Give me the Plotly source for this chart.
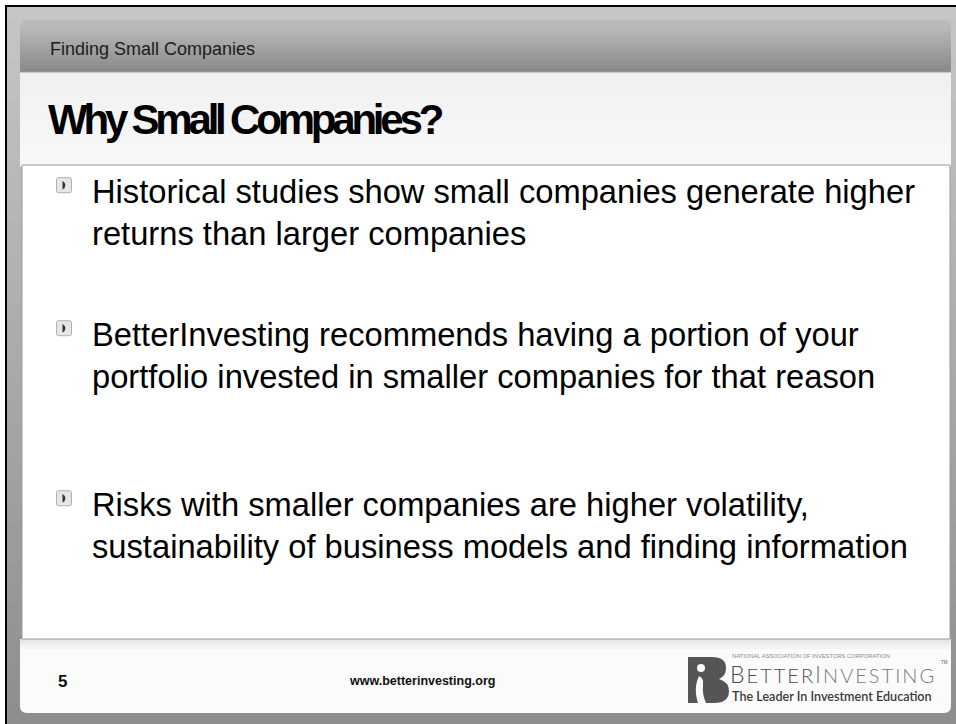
import plotly.graph_objects as go

W, H = 956, 724

# ---------------- content (text data) ----------------
section_label = "Finding Small Companies"
slide_title = "Why Small Companies?"
bullet_first_lines = [
    "Historical studies show small companies generate higher",
    "BetterInvesting recommends having a portion of your",
    "Risks with smaller companies are higher volatility,",
]
bullet_second_lines = [
    "returns than larger companies",
    "portfolio invested in smaller companies for that reason",
    "sustainability of business models and finding information",
]
page_number = "5"
footer_url = "www.betterinvesting.org"
logo_org = "NATIONAL ASSOCIATION OF INVESTORS CORPORATION"
logo_word1 = "BETTER"
logo_word2 = "INVESTING"
logo_tm = "TM"
logo_tagline = "The Leader In Investment Education"

# ---------------- layout constants ----------------
BODY_FONT = "Liberation Sans, Arial, sans-serif"
BODY_SIZE = 32.7
BULLET_BASELINES = [203, 346, 516]
LINE_GAP = 42
TEXT_X = 91
ICON_X = 64

shapes = []
annotations = []


def hexmix(c1, c2, t):
    a = [int(c1[i:i + 2], 16) for i in (1, 3, 5)]
    b = [int(c2[i:i + 2], 16) for i in (1, 3, 5)]
    return "#%02x%02x%02x" % tuple(round(a[k] + (b[k] - a[k]) * t) for k in range(3))


def rect(x0, y0, x1, y1, fill, line=None, lw=1):
    shapes.append(dict(type="rect", xref="x", yref="y", x0=x0, y0=y0, x1=x1, y1=y1,
                       fillcolor=fill, line=dict(width=lw if line else 0, color=line or fill),
                       layer="above"))


def vgrad(x0, y0, x1, y1, ctop, cbot, n=24):
    step = (y1 - y0) / n
    for i in range(n):
        c = hexmix(ctop, cbot, i / max(n - 1, 1))
        rect(x0, y0 + i * step, x1, y0 + (i + 1) * step + 0.6, c)


def path(d, fill, line=None, lw=1):
    shapes.append(dict(type="path", xref="x", yref="y", path=d, fillcolor=fill,
                       line=dict(width=lw if line else 0, color=line or fill), layer="above"))


def text(x, y, s, size, color="#000000", family=BODY_FONT, xanchor="left", weight=None):
    f = dict(size=size, color=color, family=family)
    if weight:
        f["weight"] = weight
    annotations.append(dict(x=x, y=y, xref="x", yref="y", text=s, showarrow=False,
                            xanchor=xanchor, yanchor="middle", font=f, align="left",
                            borderpad=0))


# ---------------- background frame ----------------
vgrad(0, 0, W, H, "#c6c6c6", "#8e8e8e", 36)
rect(0, 0, W, 5, "#ffffff")
rect(0, 0, 5, H, "#ffffff")
rect(5, 5, W, 7, "#000000")
rect(5, 5, 7, H, "#000000")

# header band with rounded top corners
R = 7
SX0, SX1 = 20, 951
path(f"M{SX0},28 Q{SX0},20 {SX0 + R},20 L{SX1 - R},20 Q{SX1},20 {SX1},28 Z", "#bababa")
vgrad(SX0, 27, SX1, 72, "#b8b8b8", "#8a8a8a", 22)
rect(SX0, 71.5, SX1, 72.5, "#9c9c9c")

# title area
vgrad(SX0, 72.5, SX1, 166, "#f1f1f1", "#f8f8f8", 16)

# footer area with rounded bottom corners
vgrad(SX0, 639, SX1, 650, "#e4e4e4", "#fbfbfb", 6)
rect(SX0, 649.5, SX1, 705, "#fbfbfb")
path(f"M{SX0},704 L{SX1},704 L{SX1},706 Q{SX1},713 {SX1 - R},713 L{SX0 + R},713 Q{SX0},713 {SX0},706 Z",
     "#fbfbfb")

# content box
rect(22, 165, 950, 639, "#ffffff", "#9c9c9c", 1)

# ---------------- texts ----------------
text(49, 49, section_label, 18, "#1c1c1c")
text(47, 119, f'<b><span style="letter-spacing:-4.2px">{slide_title}</span></b>', 42, "#000000",
     family="Liberation Sans, Arial, sans-serif")

cap_c = 0.36 * BODY_SIZE
for i, base in enumerate(BULLET_BASELINES):
    text(TEXT_X, base - cap_c, bullet_first_lines[i], BODY_SIZE)
    text(TEXT_X, base + LINE_GAP - cap_c, bullet_second_lines[i], BODY_SIZE)
    # bullet icon
    cy = base - cap_c - 6
    s = 7.5
    path(f"M{ICON_X - s},{cy - s + 2} Q{ICON_X - s},{cy - s} {ICON_X - s + 2},{cy - s} "
         f"L{ICON_X + s - 2},{cy - s} Q{ICON_X + s},{cy - s} {ICON_X + s},{cy - s + 2} "
         f"L{ICON_X + s},{cy + s - 2} Q{ICON_X + s},{cy + s} {ICON_X + s - 2},{cy + s} "
         f"L{ICON_X - s + 2},{cy + s} Q{ICON_X - s},{cy + s} {ICON_X - s},{cy + s - 2} Z",
         "#e6e6e6", "#b0b0b0", 1)
    path(f"M{ICON_X - 1.5},{cy - 4.5} Q{ICON_X + 4.5},{cy} {ICON_X - 1.5},{cy + 4.5} Z", "#333333")

# footer texts
text(57, 681, f"<b>{page_number}</b>", 17, "#111111")
text(422, 681, f"<b>{footer_url}</b>", 12.5, "#111111", xanchor="center")

# ---------------- logo ----------------
path("M688,657 L712,657 Q726,657 726,668 Q726,676 719,679 Q729,682 729,691 Q729,703 714,703 "
     "L688,703 Z", "#555555")
path("M699,676 Q704,678 703,686 Q702,694 706,703 L698,703 Q695,694 696,686 Q697,680 699,676 Z", "#fbfbfb")
shapes.append(dict(type="circle", xref="x", yref="y", x0=697, y0=664, x1=705, y1=672,
                   fillcolor="#fbfbfb", line=dict(width=0), layer="above"))

text(731, 656, logo_org, 5.8, "#8a8a8a")
text(729, 673.5,
     f'<span style="letter-spacing:2px"><span style="font-size:23px">{logo_word1[0]}</span>{logo_word1[1:]}'
     f'<span style="color:#7a7a7a"><span style="font-size:23px">{logo_word2[0]}</span>{logo_word2[1:]}</span></span>',
     20, "#4e4e4e", family="Lato, Liberation Sans, sans-serif", weight=300)
text(940, 662, logo_tm, 4.5, "#555555")
text(731, 696.5, logo_tagline, 12.6, "#3a3a3a", family="Lato, Liberation Sans, sans-serif", weight=600)

fig = go.Figure()
fig.update_layout(
    width=W, height=H,
    margin=dict(l=0, r=0, t=0, b=0),
    paper_bgcolor="#a6a6a6", plot_bgcolor="rgba(0,0,0,0)",
    xaxis=dict(range=[0, W], visible=False, fixedrange=True),
    yaxis=dict(range=[H, 0], visible=False, fixedrange=True),
    shapes=shapes, annotations=annotations, showlegend=False,
)
fig.write_html("out.html", config={"displayModeBar": False},
               post_script="document.body.style.margin='0';document.body.style.overflow='hidden';")
